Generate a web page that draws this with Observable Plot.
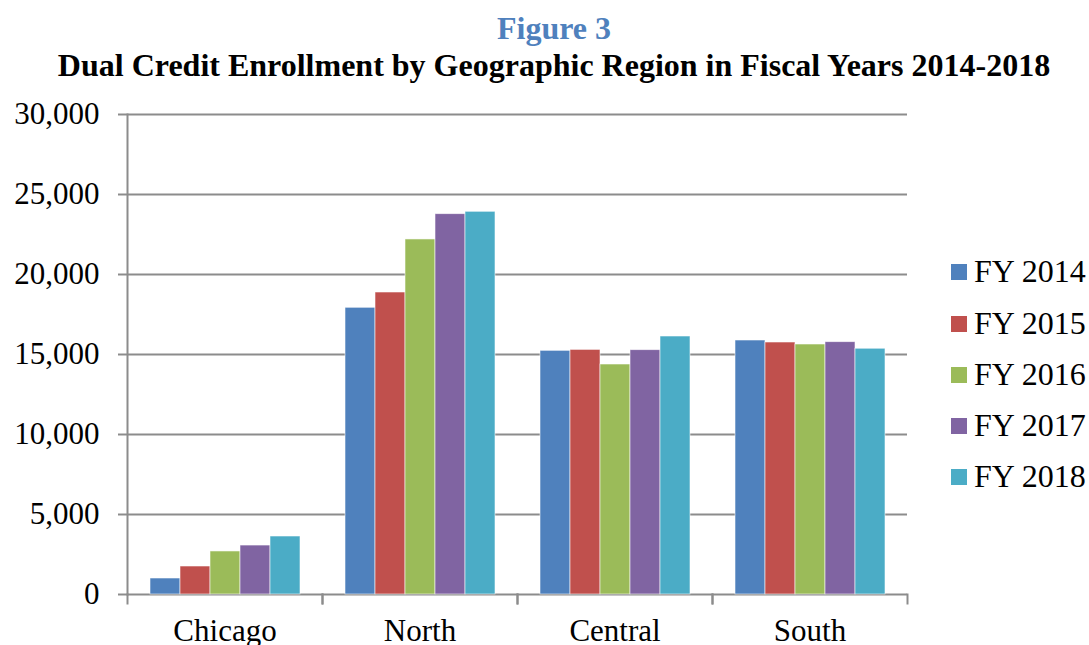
<!DOCTYPE html>
<html>
<head>
<meta charset="utf-8">
<script src="https://cdn.jsdelivr.net/npm/d3@7"></script>
<script src="https://cdn.jsdelivr.net/npm/@observablehq/plot@0.6"></script>
<style>
  html, body { margin: 0; padding: 0; background: #fff; }
  body { width: 1089px; height: 645px; position: relative; overflow: hidden; font-family: "Liberation Serif", "Times New Roman", Times, "DejaVu Serif", serif; }
  .title { position: absolute; left: 0; width: 1108px; text-align: center; font-weight: bold; line-height: 1; white-space: nowrap; }
  #fig { top: 12px; font-size: 32px; color: #4F81BD; }
  #sub { top: 49px; font-size: 32px; color: #000; }
  #chart { position: absolute; left: 0; top: 90px; }
  #chart svg text { fill: #000; font-family: "Liberation Serif", "Times New Roman", Times, serif; }
  #chart svg line, #chart svg path { stroke-width: 2px; }
  .leg { position: absolute; left: 951px; }
  .sw { position: absolute; width: 16px; height: 16px; left: 0; }
  .lt { position: absolute; left: 23px; font-size: 32px; line-height: 1; white-space: nowrap; color: #000; }
</style>
</head>
<body>
<div id="fig" class="title">Figure 3</div>
<div id="sub" class="title">Dual Credit Enrollment by Geographic Region in Fiscal Years 2014-2018</div>
<div id="chart"></div>
<div id="legend"></div>
<script>
const regions = ["Chicago", "North", "Central", "South"];
const years = ["FY 2014", "FY 2015", "FY 2016", "FY 2017", "FY 2018"];
const fy2014 = [1000, 17920, 15230, 15875];
const fy2015 = [1750, 18875, 15290, 15750];
const fy2016 = [2690, 22190, 14375, 15625];
const fy2017 = [3060, 23770, 15270, 15770];
const fy2018 = [3625, 23920, 16125, 15360];
const colors = ["#4F81BD", "#C0504D", "#9BBB59", "#8064A2", "#4BACC6"];
const yTicks = [0, 5000, 10000, 15000, 20000, 25000, 30000];

const series = [fy2014, fy2015, fy2016, fy2017, fy2018];
const data = [];
regions.forEach((r, i) => {
  years.forEach((y, j) => data.push({region: r, year: y, value: series[j][i]}));
});

const plot = Plot.plot({
  width: 930,
  height: 555,
  marginTop: 24,
  marginLeft: 126,
  marginRight: 22,
  marginBottom: 51,
  style: {fontFamily: "Liberation Serif, Times New Roman, Times, serif", fontSize: "31px", color: "#8c8c8c", background: "white"},
  fx: {domain: regions, padding: 0, label: null, tickSize: 0, tickPadding: 24},
  x: {domain: years, axis: null, paddingInner: 0, paddingOuter: 0.72},
  y: {domain: [0, 30000], ticks: yTicks, tickFormat: d3.format(","), tickSize: 9, tickPadding: 19, label: null, line: true},
  color: {domain: years, range: colors},
  marks: [
    Plot.ruleY(yTicks, {stroke: "#8c8c8c", strokeWidth: 2}),
    Plot.barY(data, {fx: "region", x: "year", y: "value", fill: "year", stroke: "white", strokeWidth: 0.8, strokeOpacity: 0.7}),
    Plot.frame({anchor: "left", insetTop: 480, insetBottom: -9, stroke: "#8c8c8c"}),
    Plot.frame({anchor: "right", insetTop: 480, insetBottom: -9, stroke: "#8c8c8c"})
  ]
});
document.getElementById("chart").appendChild(plot);

const legend = document.getElementById("legend");
const baselines = [282, 334, 385, 436, 487];
years.forEach((y, i) => {
  const row = document.createElement("div");
  row.className = "leg";
  row.style.top = "0px";
  const sw = document.createElement("div");
  sw.className = "sw";
  sw.style.background = colors[i];
  sw.style.top = (baselines[i] - 18) + "px";
  const t = document.createElement("div");
  t.className = "lt";
  t.textContent = y;
  t.style.top = (baselines[i] - 27) + "px";
  row.appendChild(sw);
  row.appendChild(t);
  legend.appendChild(row);
});
</script>
</body>
</html>
